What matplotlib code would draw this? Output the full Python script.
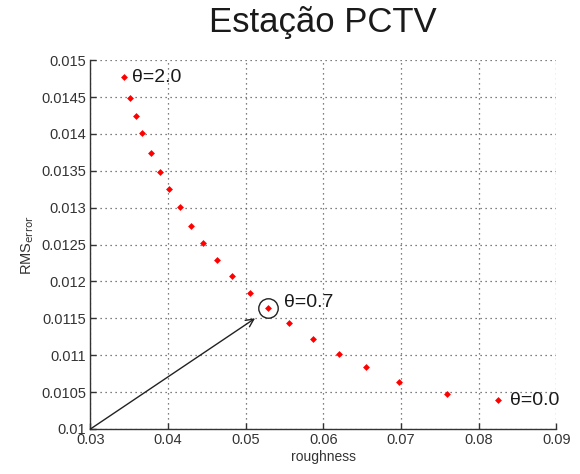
import matplotlib
matplotlib.use("Agg")
import matplotlib.pyplot as plt

# roughness vs RMS error along the theta sweep (theta 2.0 -> 0.0)
roughness = [0.03430, 0.03507, 0.03581, 0.03666, 0.03778, 0.03890, 0.04010,
             0.04152, 0.04290, 0.04445, 0.04626, 0.04823, 0.05055, 0.05292,
             0.05559, 0.05868, 0.06204, 0.06552, 0.06978, 0.07594, 0.08246]
rms_error = [0.01477, 0.01449, 0.01424, 0.01401, 0.01374, 0.01348, 0.01325,
             0.01301, 0.01275, 0.01252, 0.01229, 0.01207, 0.01184, 0.01164,
             0.01144, 0.01122, 0.01101, 0.01084, 0.01064, 0.01048, 0.01039]
labels = {0: "θ=2.0", 13: "θ=0.7", 20: "θ=0.0"}
chosen = 13

plt.rcParams["font.family"] = ["Liberation Sans", "DejaVu Sans"]

fig = plt.figure(figsize=(5.8, 4.74), dpi=100)
ax = fig.add_axes([0.156, 0.095, 0.803, 0.778])

ax.plot(roughness, rms_error, "D", color="#ff0000", ms=3.5, mew=0, zorder=4)
ax.plot([roughness[chosen]], [rms_error[chosen]], "o", ms=14, mfc="none",
        mec="#222222", mew=1.0, zorder=5)

offs = {0: (6, 0), 13: (11, 4), 20: (9, 0)}
for i, txt in labels.items():
    ax.annotate(txt, (roughness[i], rms_error[i]), textcoords="offset points",
                xytext=offs[i], va="center", ha="left", fontsize=14,
                color="#1a1a1a", zorder=6)

ax.annotate("", xy=(0.0512, 0.01150), xytext=(0.03, 0.01),
            arrowprops=dict(arrowstyle="->", color="#222222", lw=1.0,
                            mutation_scale=14, shrinkA=0, shrinkB=0),
            zorder=6)

ax.set_xlim(0.03, 0.09)
ax.set_ylim(0.01, 0.015)
ax.set_xticks([0.03, 0.04, 0.05, 0.06, 0.07, 0.08, 0.09])
ax.set_xticklabels(["0.03", "0.04", "0.05", "0.06", "0.07", "0.08", "0.09"])
yt = [0.01, 0.0105, 0.011, 0.0115, 0.012, 0.0125, 0.013, 0.0135, 0.014, 0.0145, 0.015]
ax.set_yticks(yt)
ax.set_yticklabels(["0.01", "0.0105", "0.011", "0.0115", "0.012", "0.0125",
                    "0.013", "0.0135", "0.014", "0.0145", "0.015"])
ax.tick_params(direction="in", length=4, width=1, labelsize=10.5,
               labelcolor="#333333", color="#333333", pad=3)
ax.grid(True, color="#555555", linestyle=(0, (1, 3)), linewidth=0.9)
for sp in ("top", "right"):
    ax.spines[sp].set_visible(False)
for sp in ("left", "bottom"):
    ax.spines[sp].set_color("#333333")
    ax.spines[sp].set_linewidth(1.0)

ax.set_xlabel("roughness", fontsize=10, color="#333333", labelpad=2)
ax.set_ylabel(r"RMS$_{\mathrm{error}}$", fontsize=10.5, color="#333333")
ax.yaxis.set_label_coords(-0.118, 0.5)

fig.suptitle("Estação PCTV", fontsize=25, x=0.557, y=0.987, color="#1a1a1a")

fig.savefig("out.png", dpi=100)
